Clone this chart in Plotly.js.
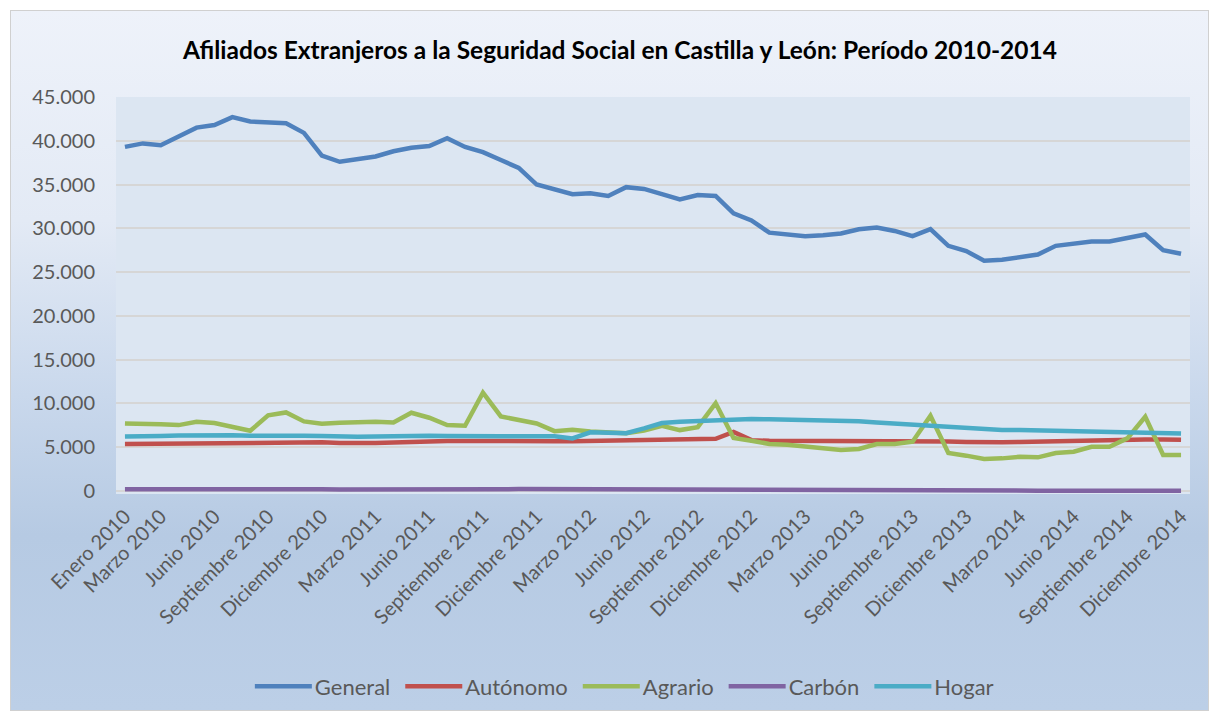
<!DOCTYPE html>
<html>
<head>
<meta charset="utf-8">
<script src="https://cdn.plot.ly/plotly-3.0.1.min.js"></script>
<style>
  html, body { margin: 0; padding: 0; background: #ffffff; }
  #frame {
    position: absolute; left: 10px; top: 10px; width: 1197px; height: 699px;
    border: 1px solid #d0d0d0;
    background: linear-gradient(180deg, #eef2fa 0%, #e3eaf5 30%, #c9d8ec 55%, #b6cae3 75%, #bccfe7 100%);
  }
  #chart { position: absolute; left: 0; top: 0; width: 1218px; height: 720px; }
</style>
</head>
<body>
<div id="frame"></div>
<div id="chart"></div>
<script>
// Monthly categories Jan 2010 .. Dec 2014 (60 points)
const months = ["Enero","Febrero","Marzo","Abril","Mayo","Junio","Julio","Agosto","Septiembre","Octubre","Noviembre","Diciembre"];
const years = [2010, 2011, 2012, 2013, 2014];
const categories = [];
years.forEach(y => months.forEach(m => categories.push(m + " " + y)));

// Labelled category positions (as shown on the axis)
const labelIndex = [0, 2, 5, 8, 11, 14, 17, 20, 23, 26, 29, 32, 35, 38, 41, 44, 47, 50, 53, 56, 59];

const general = [39300, 39700, 39500, 40500, 41500, 41800, 42700, 42200, 42100, 42000, 40900, 38300,
                 37600, 37900, 38200, 38800, 39200, 39400, 40300, 39300, 38700, 37800, 36900, 35000,
                 34500, 33900, 34000, 33700, 34700, 34500, 33900, 33300, 33800, 33700, 31700, 30900,
                 29500, 29300, 29100, 29200, 29400, 29900, 30100, 29700, 29100, 29900, 28000, 27400,
                 26300, 26400, 26700, 27000, 28000, 28300, 28500, 28500, 28900, 29300, 27500, 27100];

const autonomo = [5350, 5380, 5400, 5420, 5450, 5450, 5470, 5500, 5500, 5520, 5560, 5560,
                  5480, 5450, 5470, 5520, 5600, 5650, 5700, 5710, 5720, 5760, 5780, 5740,
                  5690, 5680, 5720, 5800, 5850, 5900, 5920, 5930, 5940, 5950, 6750, 5800,
                  5720, 5720, 5700, 5720, 5750, 5760, 5760, 5740, 5730, 5720, 5650, 5600,
                  5550, 5560, 5600, 5650, 5750, 5800, 5820, 5840, 5850, 5880, 5870, 5850];

const agrario = [7710, 7710, 7630, 7520, 7900, 7750, 7250, 6870, 8630, 8970, 7940, 7670,
                 7790, 7900, 7900, 7830, 8930, 8360, 7520, 7440, 11220, 8510, 8050, 7710,
                 6830, 6980, 6790, 6640, 6600, 6900, 7450, 6950, 7280, 10030, 6040, 5740,
                 5360, 5280, 5090, 4860, 4670, 4790, 5360, 5360, 5620, 8590, 4330, 4030,
                 3650, 3720, 3910, 3840, 4330, 4480, 5050, 5050, 6000, 8470, 4100, 4100];

const carbon = [180, 190, 200, 190, 180, 170, 160, 150, 150, 160, 170, 180,
                170, 160, 170, 180, 190, 200, 210, 200, 190, 200, 210, 200,
                190, 180, 170, 160, 150, 150, 140, 130, 120, 130, 130, 120,
                100, 80, 60, 40, 30, 30, 30, 30, 30, 30, 30, 30,
                30, 30, 30, 30, 30, 30, 30, 20, 20, 20, 20, 20];

const hogar = [6220, 6300, 6280, 6320, 6360, 6380, 6360, 6300, 6260, 6280, 6300, 6280,
               6200, 6180, 6220, 6280, 6300, 6300, 6280, 6240, 6200, 6240, 6260, 6220,
               6240, 6000, 6700, 6650, 6600, 7150, 7750, 7900, 7980, 8130, 8210, 8210,
               8180, 8150, 8100, 8060, 8000, 7950, 7830, 7700, 7560, 7450, 7300, 7180,
               6990, 6960, 6960, 6920, 6880, 6820, 6780, 6720, 6680, 6650, 6620, 6560];

const seriesNames = ["General", "Autónomo", "Agrario", "Carbón", "Hogar"];
const seriesData = [general, autonomo, agrario, carbon, hogar];
const seriesColors = ["#4f81bd", "#c0504d", "#9bbb59", "#8064a2", "#4bacc6"];

const xIdx = categories.map((_, i) => i);
const traces = seriesNames.map((n, k) => ({
  type: "scatter", mode: "lines", name: n,
  x: xIdx, y: seriesData[k], text: categories,
  line: { color: seriesColors[k], width: 4.5, shape: "linear" },
  hovertemplate: "%{text}: %{y}<extra>" + n + "</extra>"
}));

const fontFam = "Lato, 'Open Sans', sans-serif";
const layout = {
  width: 1218, height: 720,
  paper_bgcolor: "rgba(0,0,0,0)",
  plot_bgcolor: "#dce6f2",
  separators: ",.",
  margin: { l: 116, r: 28, t: 97, b: 224 },
  title: {
    text: "<b>Afiliados Extranjeros a la Seguridad Social en Castilla y León: Período 2010-2014</b>",
    font: { family: fontFam, size: 24.5, color: "#000000" },
    x: 0.509, xanchor: "center", y: 0.93, yanchor: "middle"
  },
  xaxis: {
    range: [-0.5, 59.5],
    tickmode: "array",
    tickvals: labelIndex,
    ticktext: labelIndex.map(i => categories[i]),
    tickangle: -45,
    tickfont: { family: fontFam, size: 20, color: "#595959" },
    showgrid: false, zeroline: false, showline: false,
    ticks: "", ticklabelstandoff: 6
  },
  yaxis: {
    range: [-350, 45000],
    tickmode: "array",
    tickvals: [0, 5000, 10000, 15000, 20000, 25000, 30000, 35000, 40000, 45000],
    tickformat: ",d",
    tickfont: { family: fontFam, size: 20, color: "#595959" },
    showgrid: true, gridcolor: "#d6d6d6", gridwidth: 1.5,
    zeroline: false, showline: false, ticks: "",
    ticklabelstandoff: 20
  },
  legend: {
    orientation: "h", x: 0.471, xanchor: "center", y: -0.485, yanchor: "middle",
    font: { family: fontFam, size: 22, color: "#595959" },
    bgcolor: "rgba(0,0,0,0)", itemwidth: 60, tracegroupgap: 0
  },
  showlegend: true
};

Plotly.newPlot("chart", traces, layout, { displayModeBar: false, responsive: false }).then(() => {
  // lengthen legend line samples to match the reference's longer swatches
  document.querySelectorAll("#chart .legend .legendlines path").forEach(p => {
    p.setAttribute("d", "M10,0h57");
  });
});
</script>
</body>
</html>
